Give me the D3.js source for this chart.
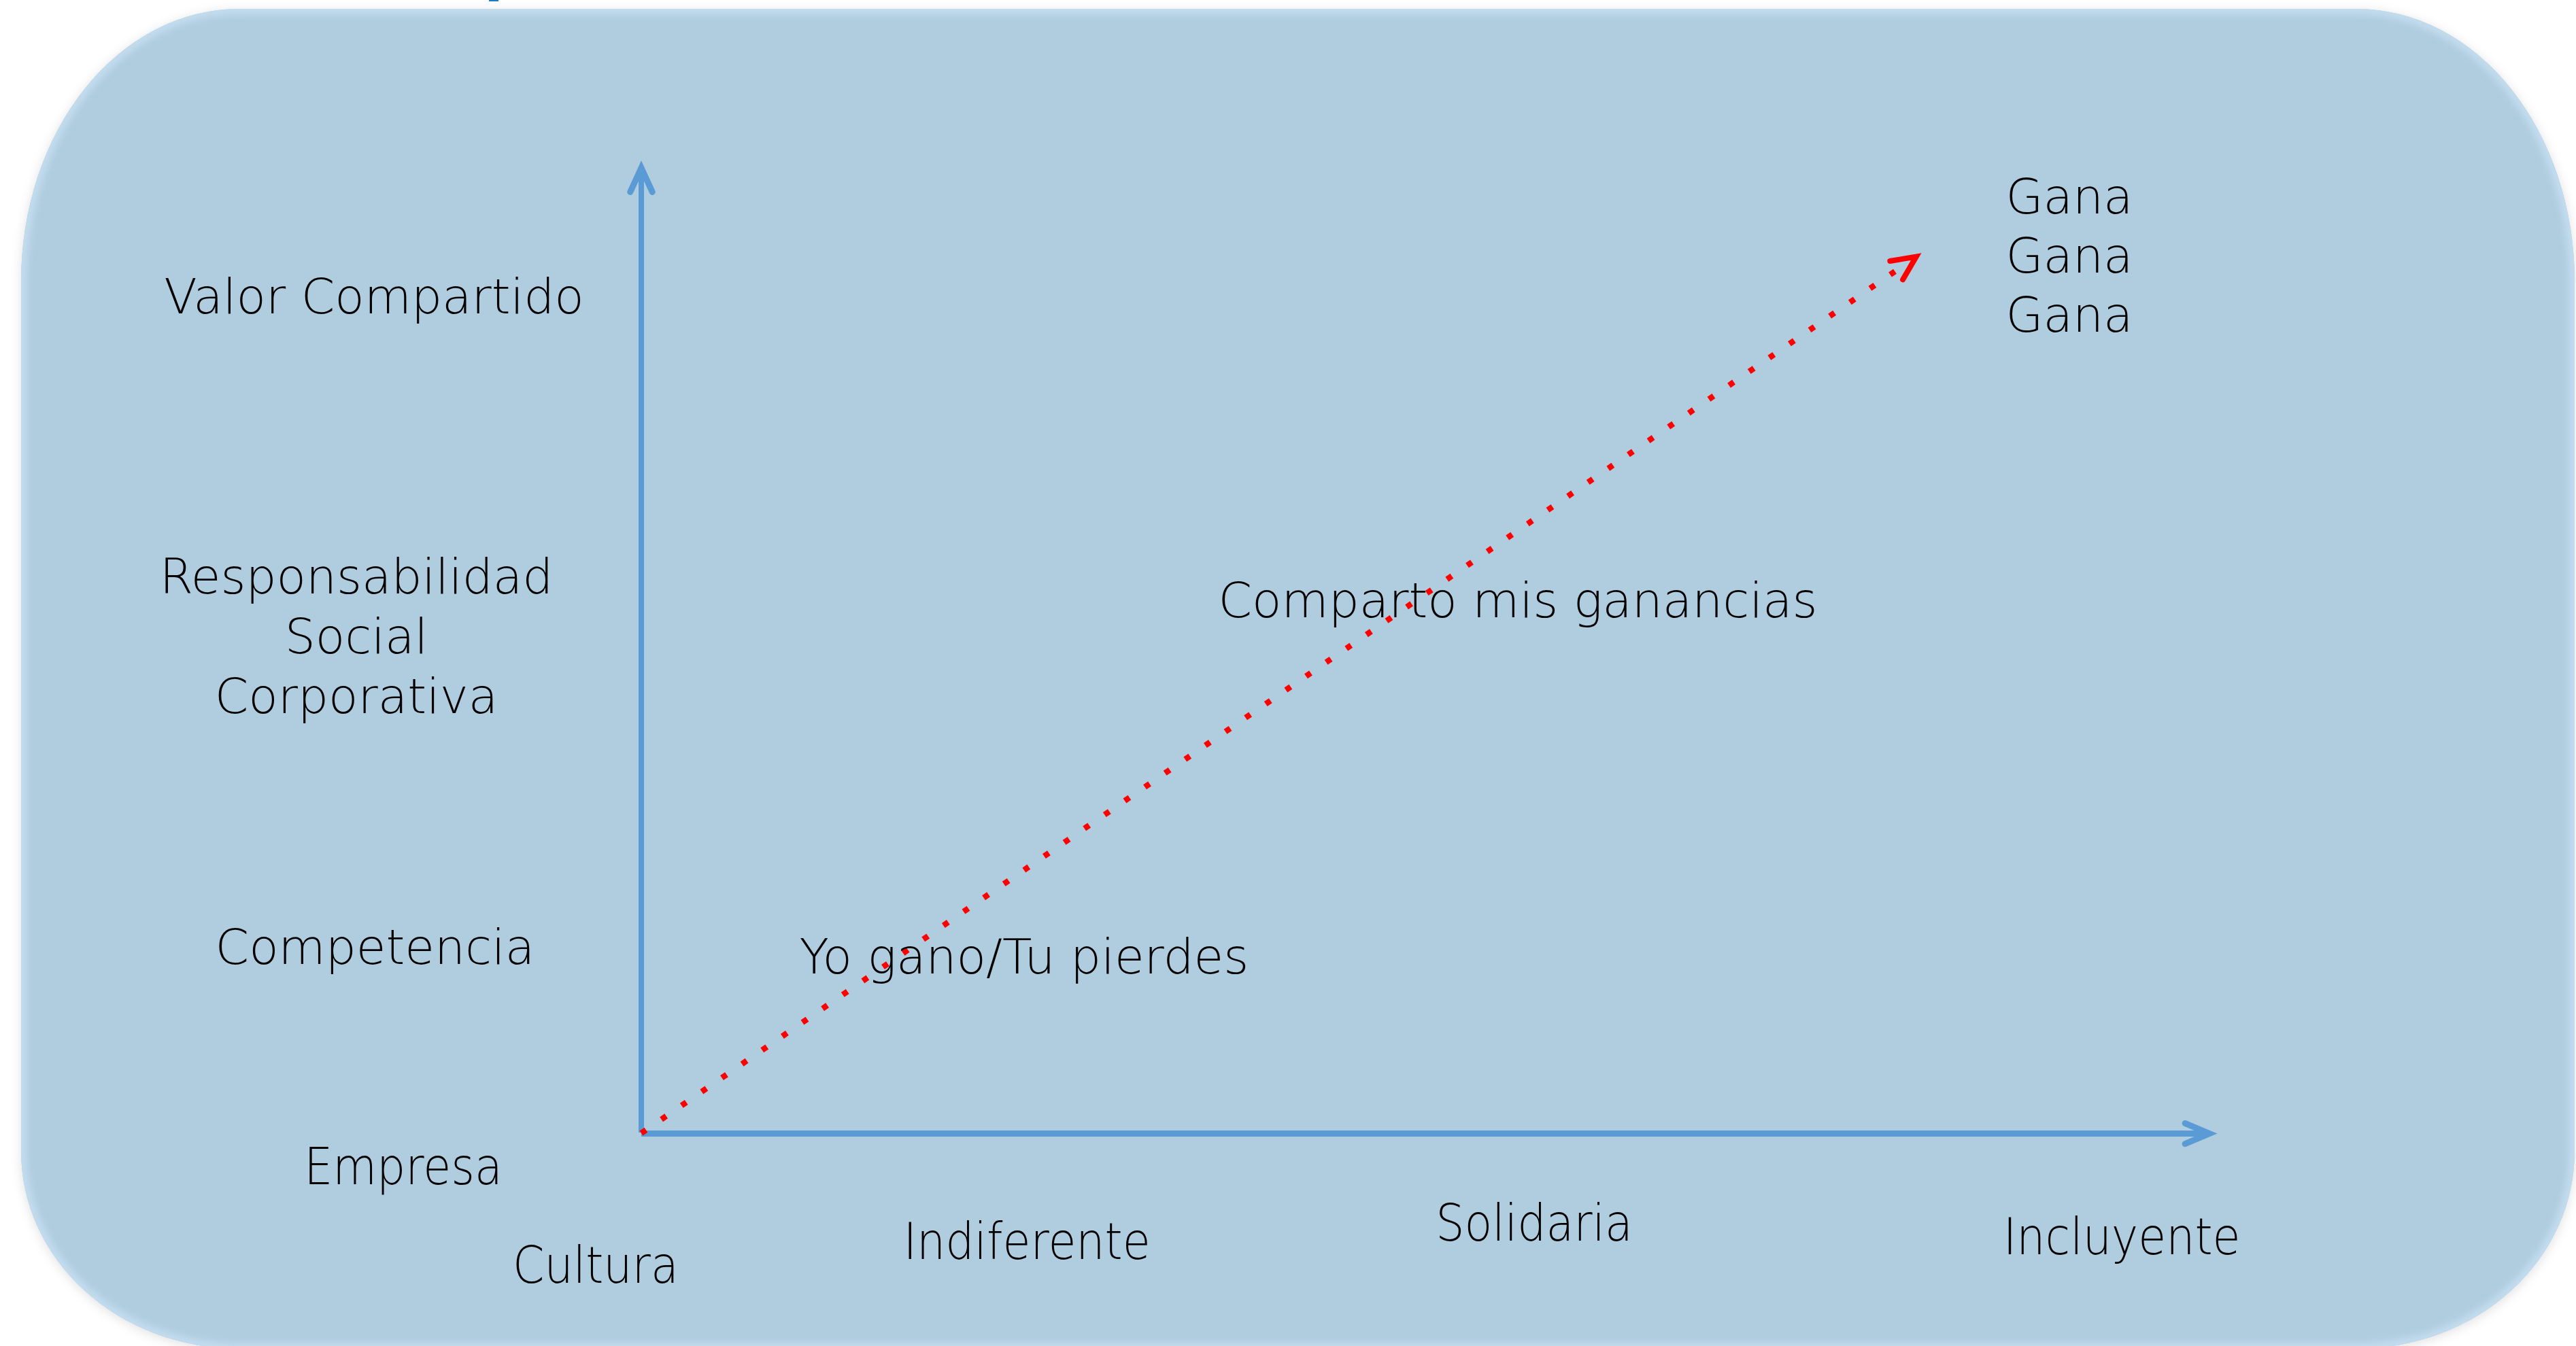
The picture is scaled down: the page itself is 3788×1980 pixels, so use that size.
<!DOCTYPE html>
<html>
<head>
<meta charset="utf-8">
<script src="https://cdn.jsdelivr.net/npm/d3@7"></script>
<style>
  html, body { margin: 0; padding: 0; background: #ffffff; }
  svg { display: block; }
  .wide { font-family: "DejaVu Sans", "Noto Sans", sans-serif; font-weight: 200; font-size: 71px; fill: #000; }
  .cond { font-family: "DejaVu Sans", "Noto Sans", sans-serif; font-weight: 200; font-size: 74px; fill: #000; }
</style>
</head>
<body>
<svg id="chart" width="3788" height="1980"></svg>
<script>
// ---------- data (in abstract axis units 0..10) ----------
const yAxisTitle = "Empresa";
const yAxisTitlePos = [-1.518, -0.528];
const xAxisTitle = "Cultura";
const xAxisTitlePos = [-0.291, -1.549];

const yLevelLabels = [["Competencia"], ["Responsabilidad", "Social", "Corporativa"], ["Valor Compartido"]];
const yLevelX = [-1.698, -1.817, -1.704];
const yLevelY = [1.754, 5.592, 8.493];

const xLevelLabels = ["Indiferente", "Solidaria", "Incluyente"];
const xLevelX = [2.459, 5.694, 9.441];
const xLevelY = [-1.303, -1.113, -1.254];

const outcomeLabels = [["Yo gano/Tu pierdes"], ["Comparto mis ganancias"], ["Gana", "Gana", "Gana"]];
const outcomeX = [2.441, 5.590, 9.107];
const outcomeY = [1.655, 5.345, 9.528];

const trendStart = [0, 0];
const trendEnd = [8.13, 9.08];

// ---------- layout ----------
const W = 3788, H = 1980;
const svg = d3.select("#chart");
const x = d3.scaleLinear().domain([0, 10]).range([943, 3249]);
const y = d3.scaleLinear().domain([0, 10]).range([1667, 247]);

const defs = svg.append("defs");
const shadow = defs.append("filter").attr("id", "shadow")
  .attr("x", "-5%").attr("y", "-5%").attr("width", "110%").attr("height", "110%");
shadow.append("feDropShadow").attr("dx", 0).attr("dy", 3).attr("stdDeviation", 8)
  .attr("flood-color", "#000").attr("flood-opacity", 0.12);
const blur = defs.append("filter").attr("id", "blur");
blur.append("feGaussianBlur").attr("stdDeviation", 5);

// rounded panel
const L = 31, T = 13, R = 3786, B = 1984, rx = 320, ryT = 400, ryB = 290;
const panelD = `M${L + rx},${T} H${R - rx} A${rx},${ryT} 0 0 1 ${R},${T + ryT} V${B - ryB} ` +
  `A${rx},${ryB} 0 0 1 ${R - rx},${B} H${L + rx} A${rx},${ryB} 0 0 1 ${L},${B - ryB} ` +
  `V${T + ryT} A${rx},${ryT} 0 0 1 ${L + rx},${T} Z`;

defs.append("clipPath").attr("id", "panelClip").append("path").attr("d", panelD);

svg.append("path").attr("d", panelD).attr("fill", "#b0ccdf").attr("filter", "url(#shadow)");
svg.append("g").attr("clip-path", "url(#panelClip)")
  .append("path").attr("d", panelD).attr("fill", "none")
  .attr("stroke", "#c2dcee").attr("stroke-width", 18).attr("filter", "url(#blur)");

// small blue fragment at the very top (cut-off title)
svg.append("rect").attr("x", 719).attr("y", 0).attr("width", 14).attr("height", 2).attr("fill", "#1a7cc9");

// arrow head helper
function headPath(tx, ty, ang, len, half) {
  const a1 = ang + Math.PI - half, a2 = ang + Math.PI + half;
  return `M${tx + len * Math.cos(a1)},${ty + len * Math.sin(a1)} L${tx},${ty} L${tx + len * Math.cos(a2)},${ty + len * Math.sin(a2)}`;
}

const axisColor = "#5b9bd5";
const axes = svg.append("g");
// y axis
axes.append("line")
  .attr("x1", x(0)).attr("y1", y(0) - 1).attr("x2", x(0)).attr("y2", y(10) + 4)
  .attr("stroke", axisColor).attr("stroke-width", 8);
axes.append("path")
  .attr("d", headPath(x(0), y(10), -Math.PI / 2, 39, 0.43))
  .attr("fill", "none").attr("stroke", axisColor).attr("stroke-width", 9)
  .attr("stroke-linecap", "round").attr("stroke-linejoin", "miter").attr("stroke-miterlimit", 10);
// x axis
axes.append("line")
  .attr("x1", x(0)).attr("y1", y(0) + 0.5).attr("x2", x(10) - 4).attr("y2", y(0) + 0.5)
  .attr("stroke", axisColor).attr("stroke-width", 9);
axes.append("path")
  .attr("d", headPath(x(10), y(0) + 0.5, 0, 39, 0.40))
  .attr("fill", "none").attr("stroke", axisColor).attr("stroke-width", 9)
  .attr("stroke-linecap", "round").attr("stroke-linejoin", "miter").attr("stroke-miterlimit", 10);

// red dotted trend arrow
const sx = x(trendStart[0]), sy = y(trendStart[1]);
const ex = x(trendEnd[0]), ey = y(trendEnd[1]);
const ang = Math.atan2(ey - sy, ex - sx);
const lineEndX = ex - 22 * Math.cos(ang), lineEndY = ey - 22 * Math.sin(ang);
svg.append("line")
  .attr("x1", sx).attr("y1", sy).attr("x2", lineEndX).attr("y2", lineEndY)
  .attr("stroke", "#ff0000").attr("stroke-width", 8.5)
  .attr("stroke-dasharray", "8.5 27.45").attr("stroke-linecap", "butt");
svg.append("path")
  .attr("d", headPath(ex, ey, ang, 39, 0.44))
  .attr("fill", "none").attr("stroke", "#ff0000").attr("stroke-width", 8)
  .attr("stroke-linecap", "round").attr("stroke-linejoin", "miter").attr("stroke-miterlimit", 10);

// labels
const labels = svg.append("g");
function multiline(sel, lines, lh) {
  lines.forEach((t, i) => {
    sel.append("tspan").attr("x", sel.attr("x")).attr("dy", i === 0 ? 0 : lh).text(t);
  });
}

yLevelLabels.forEach((lines, i) => {
  const t = labels.append("text").attr("class", "wide").attr("text-anchor", "middle")
    .attr("x", x(yLevelX[i])).attr("y", y(yLevelY[i]));
  multiline(t, lines, "1.24em");
});

outcomeLabels.forEach((lines, i) => {
  const t = labels.append("text").attr("class", "wide").attr("text-anchor", "middle")
    .attr("x", x(outcomeX[i])).attr("y", y(outcomeY[i]));
  multiline(t, lines, "1.225em");
});

// condensed labels: same light face, horizontally narrowed
const condScale = 0.9;
function condLabel(text, px, py) {
  labels.append("text").attr("class", "cond").attr("text-anchor", "middle")
    .attr("x", 0).attr("y", 0)
    .attr("transform", `translate(${px},${py}) scale(${condScale},1)`)
    .text(text);
}
xLevelLabels.forEach((d, i) => condLabel(d, x(xLevelX[i]), y(xLevelY[i])));
condLabel(yAxisTitle, x(yAxisTitlePos[0]), y(yAxisTitlePos[1]));
condLabel(xAxisTitle, x(xAxisTitlePos[0]), y(xAxisTitlePos[1]));
</script>
</body>
</html>
